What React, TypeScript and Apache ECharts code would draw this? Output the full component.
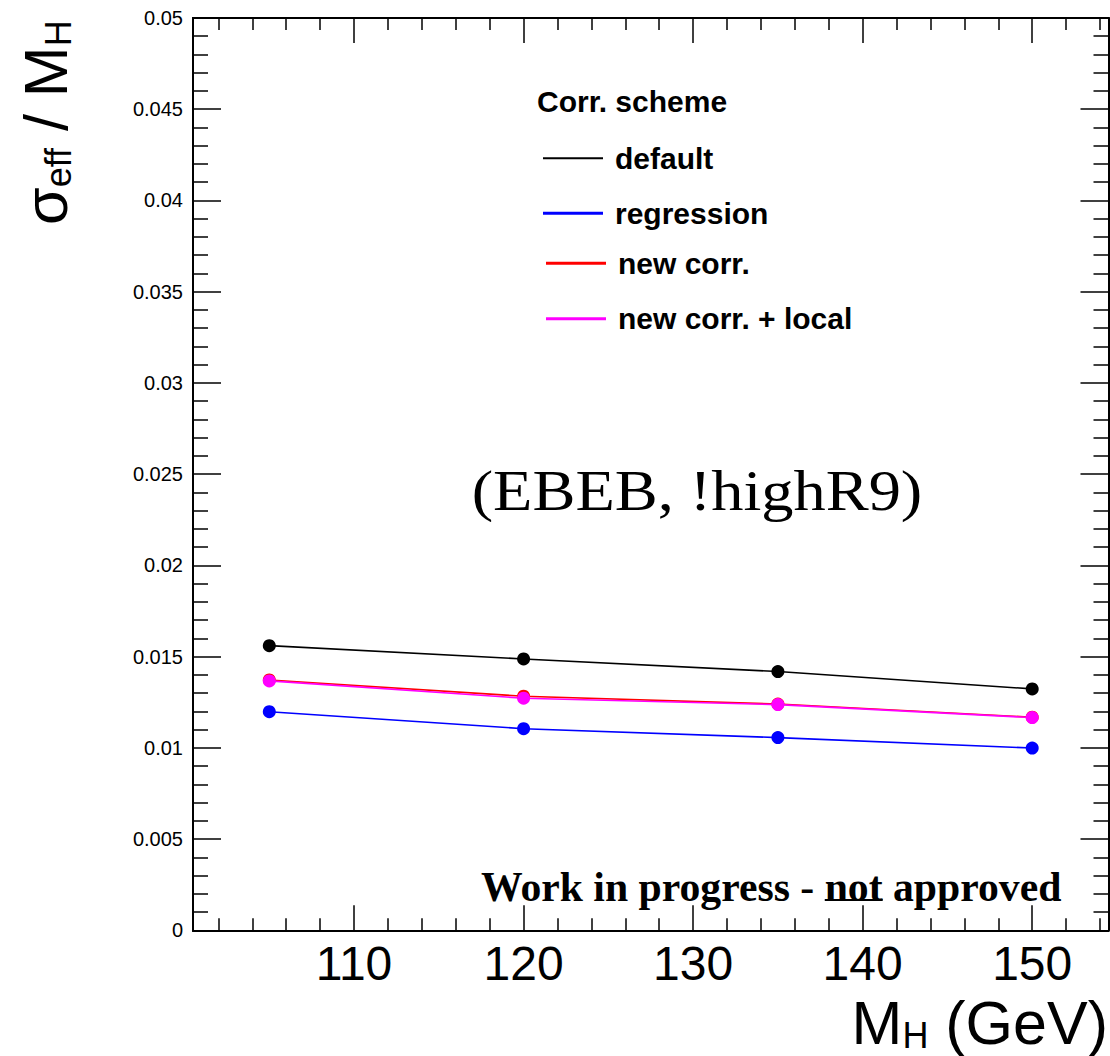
import React, { useEffect, useRef } from "react";
import * as echarts from "echarts";

// ---------- data ----------
const massPoints = [105, 120, 135, 150];
const defaultVals = [0.0156, 0.01487, 0.01418, 0.01323];
const regressionVals = [0.01198, 0.01105, 0.01056, 0.00999];
const newCorrVals = [0.01372, 0.01283, 0.0124, 0.01168];
const newCorrLocalVals = [0.01367, 0.01272, 0.01237, 0.01166];
const seriesNames = ["default", "regression", "new corr.", "new corr. + local"];
const seriesColors = ["#000000", "#0000ff", "#ff0000", "#ff00ff"];
const xMajorTicks = [110, 120, 130, 140, 150];
const xMinorTicks = [102, 104, 106, 108, 112, 114, 116, 118, 122, 124, 126, 128, 132, 134, 136, 138, 142, 144, 146, 148, 152, 154];
const xRange = [100.5, 154.5];
const yRange = [0, 0.05];
const yStep = 0.005;
const legendHeader = "Corr. scheme";
const categoryLabel = "(EBEB, !highR9)";
const wipParts = ["Work in progress - ", "not", " approved"];

const SANS = '"Liberation Sans", Helvetica, Arial, sans-serif';
const SERIF = '"Liberation Serif", "Times New Roman", serif';

function measure(text: string, font: string): number {
  const c = document.createElement("canvas").getContext("2d");
  if (!c) return text.length * 20;
  c.font = font;
  return c.measureText(text).width;
}

const mkAxisLine = () => ({ show: true, onZero: false, lineStyle: { color: "#000", width: 2 } });
const mkTickStyle = () => ({ color: "#000", width: 1.5 });

function xAxisDef(grid: number, pos: string, ticks: number[], len: number, labels: boolean) {
  return {
    type: "value",
    gridIndex: grid,
    position: pos,
    min: xRange[0],
    max: xRange[1],
    splitLine: { show: false },
    axisLine: mkAxisLine(),
    axisTick: { show: true, inside: true, length: len, customValues: ticks.slice(), lineStyle: mkTickStyle() },
    axisLabel: labels
      ? { show: true, customValues: ticks.slice(), fontSize: 48, color: "#000", margin: 9, fontFamily: SANS }
      : { show: false },
  };
}

function yAxisDef(grid: number, pos: string, labels: boolean) {
  return {
    type: "value",
    gridIndex: grid,
    position: pos,
    min: yRange[0],
    max: yRange[1],
    interval: yStep,
    splitLine: { show: false },
    minorSplitLine: { show: false },
    axisLine: mkAxisLine(),
    axisTick: { show: true, inside: true, length: 28, lineStyle: mkTickStyle() },
    minorTick: { show: true, splitNumber: 5, length: 15, lineStyle: mkTickStyle() },
    axisLabel: labels
      ? { show: true, fontSize: 20, color: "#000", margin: 10, fontFamily: SANS, padding: [5, 0, 0, 0] }
      : { show: false },
  };
}

export default function App() {
  const ref = useRef<HTMLDivElement>(null);
  useEffect(() => {
    if (!ref.current) return;
    const chart = echarts.init(ref.current, undefined, { renderer: "svg" });

    const allVals = [defaultVals, regressionVals, newCorrVals, newCorrLocalVals];
    const series = allVals.map((vals, k) => ({
      type: "line",
      name: seriesNames[k],
      data: massPoints.map((m, i) => [m, vals[i]]),
      symbol: "circle",
      symbolSize: 13,
      itemStyle: { color: seriesColors[k] },
      lineStyle: { color: seriesColors[k], width: 1.6 },
      xAxisIndex: 0,
      yAxisIndex: 0,
      z: 2 + k,
    }));

    const mkGrid = () => ({ left: 193, top: 18, right: 1.5, bottom: 125.7, containLabel: false });

    const xAxes = [
      xAxisDef(0, "bottom", xMajorTicks, 25, true),
      xAxisDef(0, "top", xMajorTicks, 25, false),
      xAxisDef(1, "bottom", xMinorTicks, 12, false),
      xAxisDef(2, "top", xMinorTicks, 12, false),
    ];
    const yAxes = [
      yAxisDef(0, "left", true),
      yAxisDef(0, "right", false),
      { type: "value", gridIndex: 1, min: yRange[0], max: yRange[1], show: false },
      { type: "value", gridIndex: 2, min: yRange[0], max: yRange[1], show: false },
    ];

    const legendRows = [
      { y: 158.3, left: 543, h: 2 },
      { y: 213.3, left: 543, h: 3 },
      { y: 263.3, left: 546, h: 3 },
      { y: 318.7, left: 546, h: 3 },
    ];
    const legends = seriesNames.map((n, k) => ({
      data: [n],
      left: legendRows[k].left,
      top: legendRows[k].y - 15,
      padding: 0,
      icon: "rect",
      itemWidth: 60,
      itemHeight: legendRows[k].h,
      selectedMode: false,
      textStyle: {
        fontSize: 30,
        fontWeight: "bold",
        color: "#000",
        fontFamily: SANS,
        lineHeight: 30,
        padding: [0, 0, 0, 7],
      },
    }));

    const wipFont = `bold 43px ${SERIF}`;
    const wipScale = 0.97;
    const wipLeft = 481;
    const w1 = measure(wipParts[0], wipFont) * wipScale;
    const w2 = measure(wipParts[1], wipFont) * wipScale;

    chart.setOption({
      animation: false,
      grid: [mkGrid(), mkGrid(), mkGrid()],
      xAxis: xAxes,
      yAxis: yAxes,
      legend: legends,
      series,
      graphic: [
        {
          type: "text",
          left: 537,
          top: 86,
          style: { text: legendHeader, font: `bold 30px ${SANS}`, fill: "#000" },
        },
        {
          type: "text",
          x: 697,
          y: 491,
          scaleX: 1.15,
          style: {
            text: categoryLabel,
            font: `56px ${SERIF}`,
            fill: "#000",
            align: "center",
            verticalAlign: "middle",
          },
        },
        {
          type: "text",
          x: wipLeft,
          y: 886,
          scaleX: wipScale,
          style: {
            text: wipParts.join(""),
            font: wipFont,
            fill: "#000",
            align: "left",
            verticalAlign: "middle",
          },
        },
        {
          type: "line",
          shape: { x1: wipLeft + w1, y1: 900, x2: wipLeft + w1 + w2, y2: 900 },
          style: { stroke: "#000", lineWidth: 2 },
        },
        {
          type: "text",
          x: 1108,
          y: 992,
          style: {
            text: "{m|M}{s|H}{m| (GeV)}",
            align: "right",
            verticalAlign: "top",
            fill: "#000",
            rich: {
              m: { fontSize: 61, lineHeight: 61, fontFamily: SANS, fill: "#000" },
              s: { fontSize: 36, lineHeight: 20, fontFamily: SANS, verticalAlign: "bottom", fill: "#000" },
            },
          },
        },
        {
          type: "text",
          x: 15.4,
          y: 225,
          rotation: Math.PI / 2,
          style: {
            text: "{m|σ}{s|eff}{m| / M}{s|H}",
            align: "left",
            verticalAlign: "top",
            fill: "#000",
            rich: {
              m: { fontSize: 61, lineHeight: 61, fontFamily: SANS, fill: "#000" },
              s: { fontSize: 36, lineHeight: 20, fontFamily: SANS, verticalAlign: "bottom", fill: "#000" },
            },
          },
        },
      ],
    });
    return () => chart.dispose();
  }, []);
  return (
    <div
      ref={ref}
      style={{ position: "fixed", left: 0, top: 0, width: 1110, height: 1056, background: "#fff" }}
    />
  );
}
